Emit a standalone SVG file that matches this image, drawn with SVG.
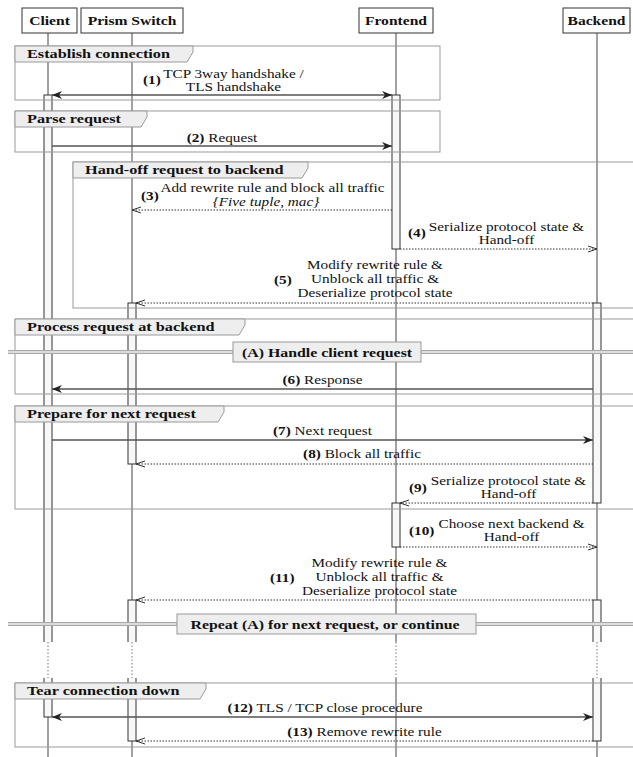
<svg xmlns="http://www.w3.org/2000/svg" width="633" height="757" viewBox="0 0 633 757">
<style>
text{font-family:'Liberation Serif','Times New Roman',serif;fill:#111;}
.r{font-size:12.5px;}
.b{font-size:13px;font-weight:bold;}
.bb{font-weight:bold;}
.it{font-style:italic;}
.m{text-anchor:middle;}
.frame{fill:none;stroke:#9a9a9a;stroke-width:1;}
.tab{fill:#eeeeee;stroke:#9a9a9a;stroke-width:1;}
.box{fill:#ffffff;stroke:#333;stroke-width:1;}
.life{stroke:#444;stroke-width:1;}
.bar{fill:#f8f8f8;stroke:#333;stroke-width:1;}
.sync{stroke:#555;stroke-width:1.5;fill:none;marker-end:url(#ah);}
.both{marker-start:url(#ah);}
.ret{stroke:#333;stroke-width:1;stroke-dasharray:1.5 1.5;fill:none;marker-end:url(#ao);}
.divo{stroke:#a8a8a8;stroke-width:4;}
.divi{stroke:#eeeeee;stroke-width:1.3;}
.ref{fill:#eeeeee;stroke:#999;stroke-width:1;}
.gapl{stroke:#777;stroke-width:1;stroke-dasharray:1.5 2;}
</style>
<defs>
<marker id="ah" markerUnits="userSpaceOnUse" viewBox="0 0 10 8" refX="10" refY="4" markerWidth="10" markerHeight="8" orient="auto-start-reverse">
<path d="M0,0 L10,4 L0,8 L3,4 z" fill="#222"/>
</marker>
<marker id="ao" markerUnits="userSpaceOnUse" viewBox="0 0 9 8" refX="9" refY="4" markerWidth="9" markerHeight="8" orient="auto">
<path d="M0,1 L9,4 L0,7" fill="none" stroke="#333" stroke-width="1"/>
</marker>
</defs>
<rect x="0" y="0" width="633" height="757" fill="#ffffff"/>

<g id="lifelines">
<line class="life" x1="48" y1="33" x2="48" y2="757"/>
<line class="life" x1="132" y1="33" x2="132" y2="757"/>
<line class="life" x1="396" y1="33" x2="396" y2="757"/>
<line class="life" x1="597" y1="33" x2="597" y2="757"/>
</g>

<g id="activations">
<rect class="bar" x="44" y="95" width="8" height="622"/>
<rect class="bar" x="392" y="95" width="8" height="154"/>
<rect class="bar" x="392" y="503" width="8" height="44"/>
<rect class="bar" x="128" y="303" width="8" height="161"/>
<rect class="bar" x="128" y="600" width="8" height="141"/>
<rect class="bar" x="593" y="303" width="8" height="200"/>
<rect class="bar" x="593" y="600" width="8" height="141"/>
</g>

<g id="frames">
<g id="frame-establish">
<rect class="frame" x="15" y="46" width="425" height="54"/>
<polygon class="tab" points="15,46 193,46 193,52 187,62 15,62"/>
<text class="b" transform="translate(27,58) scale(1.25,1)">Establish connection</text>
</g>
<g id="frame-parse">
<rect class="frame" x="15" y="111" width="425" height="41"/>
<polygon class="tab" points="15,111 147,111 147,117 141,127 15,127"/>
<text class="b" transform="translate(27,123) scale(1.25,1)">Parse request</text>
</g>
<g id="frame-handoff">
<rect class="frame" x="73" y="162" width="580" height="146"/>
<polygon class="tab" points="73,162 308,162 308,168 302,178 73,178"/>
<text class="b" transform="translate(85,174) scale(1.25,1)">Hand-off request to backend</text>
</g>
<g id="frame-process">
<rect class="frame" x="15" y="319" width="640" height="75"/>
<polygon class="tab" points="15,319 245,319 245,325 239,335 15,335"/>
<text class="b" transform="translate(27,331) scale(1.25,1)">Process request at backend</text>
</g>
<g id="frame-prepare">
<rect class="frame" x="15" y="406" width="640" height="103"/>
<polygon class="tab" points="15,406 224,406 224,412 218,422 15,422"/>
<text class="b" transform="translate(27,418) scale(1.25,1)">Prepare for next request</text>
</g>
<g id="frame-tear">
<rect class="frame" x="15" y="683" width="640" height="64"/>
<polygon class="tab" points="15,683 206,683 206,689 200,699 15,699"/>
<text class="b" transform="translate(27,695) scale(1.25,1)">Tear connection down</text>
</g>
</g>

<g id="participants">
<g id="p-client"><rect class="box" x="22" y="8" width="55" height="25"/><text class="b m" transform="translate(49.5,25) scale(1.2,1)">Client</text></g>
<g id="p-switch"><rect class="box" x="81" y="8" width="102" height="25"/><text class="b m" transform="translate(132,25) scale(1.2,1)">Prism Switch</text></g>
<g id="p-frontend"><rect class="box" x="359" y="8" width="74" height="25"/><text class="b m" transform="translate(396,25) scale(1.2,1)">Frontend</text></g>
<g id="p-backend"><rect class="box" x="563" y="8" width="67" height="25"/><text class="b m" transform="translate(596.5,25) scale(1.2,1)">Backend</text></g>
</g>

<g id="connectors">
<line class="sync both" x1="52" y1="95" x2="392" y2="95"/>
<line class="sync" x1="52" y1="146" x2="392" y2="146"/>
<line class="ret" x1="392" y1="210" x2="132" y2="210"/>
<line class="ret" x1="400" y1="249" x2="597" y2="249"/>
<line class="ret" x1="593" y1="303" x2="136" y2="303"/>
<line class="sync" x1="593" y1="389" x2="52" y2="389"/>
<line class="sync" x1="52" y1="440" x2="593" y2="440"/>
<line class="ret" x1="593" y1="464" x2="136" y2="464"/>
<line class="ret" x1="593" y1="503" x2="400" y2="503"/>
<line class="ret" x1="400" y1="547" x2="597" y2="547"/>
<line class="ret" x1="593" y1="600" x2="136" y2="600"/>
<line class="sync both" x1="52" y1="717" x2="593" y2="717"/>
<line class="ret" x1="593" y1="741" x2="136" y2="741"/>
</g>

<g id="labels">
<text class="r bb" transform="translate(143,84) scale(1.22,1)">(1)</text>
<text class="r m" transform="translate(233.5,78) scale(1.22,1)">TCP 3way handshake /</text>
<text class="r m" transform="translate(233.5,91) scale(1.22,1)">TLS handshake</text>
<text class="r m" transform="translate(222,142) scale(1.22,1)"><tspan class="bb">(2)</tspan> Request</text>
<text class="r bb" transform="translate(141,200) scale(1.22,1)">(3)</text>
<text class="r m" transform="translate(272.5,192) scale(1.22,1)">Add rewrite rule and block all traffic</text>
<text class="r m it" transform="translate(266,206) scale(1.22,1)">{Five tuple, mac}</text>
<text class="r bb" transform="translate(408,237) scale(1.22,1)">(4)</text>
<text class="r m" transform="translate(506.5,231) scale(1.22,1)">Serialize protocol state &amp;</text>
<text class="r m" transform="translate(506.5,244) scale(1.22,1)">Hand-off</text>
<text class="r bb" transform="translate(274,284) scale(1.22,1)">(5)</text>
<text class="r m" transform="translate(375,269) scale(1.22,1)">Modify rewrite rule &amp;</text>
<text class="r m" transform="translate(375,283) scale(1.22,1)">Unblock all traffic &amp;</text>
<text class="r m" transform="translate(375,297) scale(1.22,1)">Deserialize protocol state</text>
<text class="r m" transform="translate(322.5,384) scale(1.22,1)"><tspan class="bb">(6)</tspan> Response</text>
<text class="r m" transform="translate(322.5,435) scale(1.22,1)"><tspan class="bb">(7)</tspan> Next request</text>
<text class="r m" transform="translate(362,458) scale(1.22,1)"><tspan class="bb">(8)</tspan> Block all traffic</text>
<text class="r bb" transform="translate(409,492) scale(1.22,1)">(9)</text>
<text class="r m" transform="translate(508.5,485) scale(1.22,1)">Serialize protocol state &amp;</text>
<text class="r m" transform="translate(508.5,498) scale(1.22,1)">Hand-off</text>
<text class="r bb" transform="translate(409,535) scale(1.22,1)">(10)</text>
<text class="r m" transform="translate(511.5,528) scale(1.22,1)">Choose next backend &amp;</text>
<text class="r m" transform="translate(511.5,541) scale(1.22,1)">Hand-off</text>
<text class="r bb" transform="translate(270,582) scale(1.22,1)">(11)</text>
<text class="r m" transform="translate(379.5,567) scale(1.22,1)">Modify rewrite rule &amp;</text>
<text class="r m" transform="translate(379.5,581) scale(1.22,1)">Unblock all traffic &amp;</text>
<text class="r m" transform="translate(379.5,595) scale(1.22,1)">Deserialize protocol state</text>
<text class="r m" transform="translate(325,712) scale(1.22,1)"><tspan class="bb">(12)</tspan> TLS / TCP close procedure</text>
<text class="r m" transform="translate(364.5,736) scale(1.22,1)"><tspan class="bb">(13)</tspan> Remove rewrite rule</text>
</g>

<g id="ref-handle">
<line class="divo" x1="8" y1="352" x2="233" y2="352"/>
<line class="divi" x1="8" y1="352" x2="233" y2="352"/>
<line class="divo" x1="421" y1="352" x2="633" y2="352"/>
<line class="divi" x1="421" y1="352" x2="633" y2="352"/>
<rect class="ref" x="233" y="342" width="188" height="20"/>
<text class="b m" transform="translate(327,356.5) scale(1.22,1)">(A) Handle client request</text>
</g>

<g id="ref-repeat">
<line class="divo" x1="8" y1="624" x2="177" y2="624"/>
<line class="divi" x1="8" y1="624" x2="177" y2="624"/>
<line class="divo" x1="476" y1="624" x2="633" y2="624"/>
<line class="divi" x1="476" y1="624" x2="633" y2="624"/>
<rect class="ref" x="177" y="614" width="299" height="20"/>
<text class="b m" transform="translate(325,628.5) scale(1.22,1)">Repeat (A) for next request, or continue</text>
</g>

<g id="gap">
<rect x="0" y="642" width="633" height="36" fill="#ffffff"/>
<line class="gapl" x1="48" y1="642" x2="48" y2="678"/>
<line class="gapl" x1="132" y1="642" x2="132" y2="678"/>
<line class="gapl" x1="396" y1="642" x2="396" y2="678"/>
<line class="gapl" x1="597" y1="642" x2="597" y2="678"/>
</g>
</svg>
